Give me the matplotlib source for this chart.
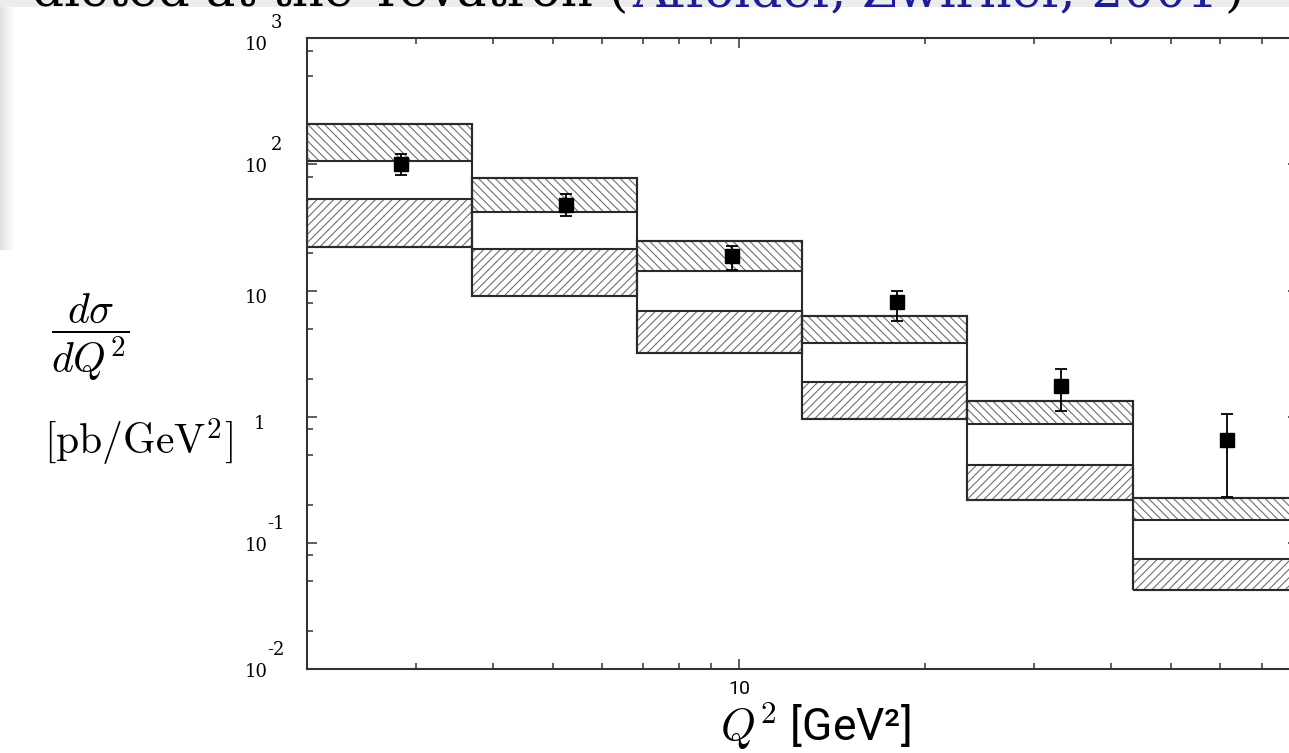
import numpy as np
import matplotlib.pyplot as plt
from matplotlib.patches import Rectangle
from matplotlib.ticker import LogLocator, FixedLocator, NullFormatter

plt.rcParams['mathtext.fontset'] = 'cm'
plt.rcParams['hatch.linewidth'] = 0.8

# Q^2 bins [GeV^2]
bin_edges = [2.0, 3.70, 6.84, 12.65, 23.4, 43.3, 80.0]
# upper (\\) and lower (//) hatched bands: top and bottom values [pb/GeV^2]
upper_top = [209, 78.6, 24.9, 6.27, 1.33, 0.226]
upper_bot = [107, 41.8, 14.4, 3.87, 0.873, 0.152]
lower_top = [53, 21.3, 6.90, 1.90, 0.418, 0.0748]
lower_bot = [22.3, 9.12, 3.23, 0.957, 0.220, 0.0425]

# measured points
q2_data = [2.84, 5.26, 9.73, 18.0, 33.2, 61.5]
xsec = [101, 47.8, 18.9, 8.18, 1.77, 0.653]
err_hi = [122, 58.4, 22.7, 9.95, 2.38, 1.05]
err_lo = [82.1, 39.3, 14.6, 5.78, 1.11, 0.233]

y_exps = [3, 2, 1, 0, -1, -2]

W, H = 1289, 753
fig = plt.figure(figsize=(W / 100, H / 100), dpi=100)


def fx(px):
    return px / W


def fy(py):
    return 1 - py / H


# slide decorations: grey strip at top and faded strip at the left
fig.patches.append(Rectangle((0, fy(7)), 1, 7 / H, transform=fig.transFigure,
                             facecolor='#ececec', edgecolor='none', zorder=0))
grad = fig.add_axes([0, fy(250), fx(14), 243 / H], zorder=0)
grad.imshow(np.linspace(0.88, 1.0, 50)[None, :], cmap='gray', vmin=0, vmax=1,
            aspect='auto', extent=(0, 1, 0, 1))
grad.axis('off')

# cut-off slide title
fig.text(fx(628), fy(6), 'dicted at the Tevatron (', ha='right', va='baseline',
         fontsize=36, family='DejaVu Serif', color='black')
fig.text(fx(632), fy(6), 'Affolder, Zwirner, 2001', ha='left', va='baseline',
         fontsize=36, family='DejaVu Serif', color='#1c1c9c')
fig.text(fx(1224), fy(6), ')', ha='left', va='baseline',
         fontsize=36, family='DejaVu Serif', color='black')

ax = fig.add_axes([fx(306.7), fy(669.3), fx(1297.6 - 306.7), (669.3 - 38.3) / H])
ax.set_xscale('log')
ax.set_yscale('log')
ax.set_xlim(2, 80)
ax.set_ylim(1e-2, 1e3)
ax.set_axisbelow(True)

left = np.array(bin_edges[:-1])
width = np.diff(bin_edges)
ut, ub = np.array(upper_top), np.array(upper_bot)
lt, lb = np.array(lower_top), np.array(lower_bot)

# hatched bands
ax.bar(left, ut - ub, width=width, bottom=ub, align='edge', facecolor='white',
       edgecolor='#707070', hatch='\\\\\\\\', linewidth=0, zorder=1)
ax.bar(left, lt - lb, width=width, bottom=lb, align='edge', facecolor='white',
       edgecolor='#707070', hatch='////', linewidth=0, zorder=1)
# outlines
for top, bot in [(ut, ub), (lt, lb), (ut, lb)]:
    ax.bar(left, top - bot, width=width, bottom=bot, align='edge', fill=False,
           edgecolor='#2a2a2a', linewidth=1.5, zorder=2)

yv = np.array(xsec)
yerr = [yv - np.array(err_lo), np.array(err_hi) - yv]
ax.errorbar(q2_data, yv, yerr=yerr, fmt='s', color='black', ms=10,
            capsize=4, elinewidth=1.3, capthick=1.3, zorder=5)

for sp in ax.spines.values():
    sp.set_linewidth(1.5)
    sp.set_color('#333333')

ax.tick_params(which='both', direction='in', top=True, right=True,
               color='#333333', width=1.1)
ax.tick_params(which='major', length=7.5)
ax.tick_params(which='minor', length=4.5)
ax.yaxis.set_minor_locator(LogLocator(base=10, subs=(2, 5, 8)))
ax.yaxis.set_minor_formatter(NullFormatter())
ax.yaxis.set_major_formatter(NullFormatter())
ax.xaxis.set_major_locator(FixedLocator([10]))
ax.set_xticklabels(['10'], family='Roboto', fontsize=14)
ax.xaxis.set_minor_formatter(NullFormatter())
ax.tick_params(axis='x', which='major', pad=8)

# y tick labels in the old "10 with raised exponent" style
for e in y_exps:
    base = '1' if e == 0 else '10'
    bx = -34 if e == 0 else -36
    by = -5 if e in (0, 1, 3) else -2
    ax.annotate(base, xy=(0, 10.0 ** e), xycoords=('axes fraction', 'data'),
                xytext=(bx, by), textcoords='offset points', ha='center',
                va='center', fontsize=13, family='DejaVu Serif')
    if e not in (0, 1):
        ey = 11 if e == 3 else 14
        ax.annotate(str(e), xy=(0, 10.0 ** e), xycoords=('axes fraction', 'data'),
                    xytext=(-22, ey), textcoords='offset points', ha='center',
                    va='center', fontsize=13, family='DejaVu Serif')

fig.text(fx(815), fy(726), r'$Q^2$' + ' [GeV²]', ha='center', va='center',
         fontsize=32, family='Roboto')
fig.text(fx(90), fy(337), r'$\dfrac{d\sigma}{dQ^2}$', ha='center', va='center',
         fontsize=30)
fig.text(fx(44), fy(442), r'$[\mathrm{pb}/\mathrm{GeV}^2]$', ha='left',
         va='center', fontsize=30)

fig.savefig('out.png', dpi=100)
